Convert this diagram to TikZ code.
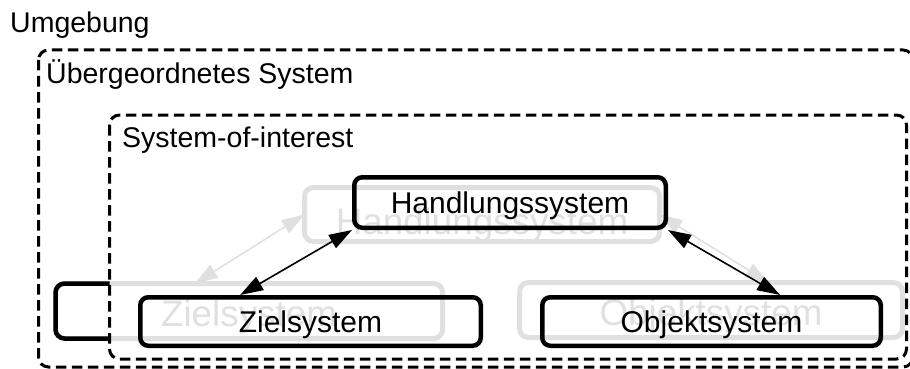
\documentclass[tikz,border=0pt]{standalone}
\usepackage{fontspec}
\setmainfont{Liberation Sans}
\usetikzlibrary{arrows.meta,calc}
\definecolor{ghost}{RGB}{224,224,224}
\tikzset{
  label/.style={font=\fontsize{28.5}{34}\selectfont, inner sep=0pt, anchor=base west},
  frame/.style={draw, line width=3pt, dash pattern=on 10.5pt off 5.5pt, rounded corners=10pt},
  sysbox/.style={draw, line width=4.5pt, rounded corners=8pt, inner sep=0pt,
    font=\fontsize{30}{36}\selectfont, text height=21pt, text depth=0pt},
  ghostbox/.style={draw=ghost, text=ghost, line width=5pt, rounded corners=9pt, inner sep=0pt,
    outer sep=0pt, font=\fontsize{36.8}{44}\selectfont, text height=31.8pt, text depth=0pt},
  link/.style={{Triangle[length=23pt,width=15pt]}-{Triangle[length=23pt,width=15pt]}, line width=1.6pt},
  ghostlink/.style={link, draw=ghost, fill=ghost},
}
\begin{document}
\begin{tikzpicture}[x=1pt,y=-1pt]
\useasboundingbox (0,0) rectangle (910,369);

% faded earlier layout of the three subsystems
\node[ghostbox, minimum width=355pt, minimum height=54pt, text height=39pt] (GH) at (482,214.5) {Handlungssystem};
\node[ghostbox, minimum width=387pt, minimum height=55pt] (GZ) at (249,311) {Zielsystem};
\node[ghostbox, minimum width=383pt, minimum height=55pt] (GO) at (711,310) {Objektsystem};
\draw[ghostlink] (GH.west) -- ($(GZ.north west)!0.36!(GZ.north east)$);
\draw[ghostlink] (GH.east) -- ($(GO.north west)!0.65!(GO.north east)$);

% part of the goal system lying outside the system-of-interest
\begin{scope}
  \clip (0,0) rectangle (109.5,369);
  \draw[line width=4.5pt, rounded corners=9pt] (GZ.north west) rectangle (GZ.south east);
\end{scope}

% nested system boundaries
\draw[frame] (38.5,50) rectangle (913,367);
\draw[frame] (109.5,115) rectangle (906.5,359);

\node[label] (env) at (10,33) {Umgebung};
\node[label] (sup) at (46,83) {Übergeordnetes System};
\node[label] (soi) at (122,147) {System-of-interest};

% subsystems
\node[sysbox, minimum width=311.5pt, minimum height=50.5pt] (H) at (510,202.5) {Handlungssystem};
\node[sysbox, minimum width=340.5pt, minimum height=48.5pt] (Z) at (310.5,321.5) {Zielsystem};
\node[sysbox, minimum width=338.5pt, minimum height=48.5pt] (O) at (711.5,321.5) {Objektsystem};

\draw[link] (H.south west) -- ($(Z.north west)!0.296!(Z.north east)$);
\draw[link] (H.south east) -- ($(O.north west)!0.70!(O.north east)$);
\end{tikzpicture}
\end{document}
